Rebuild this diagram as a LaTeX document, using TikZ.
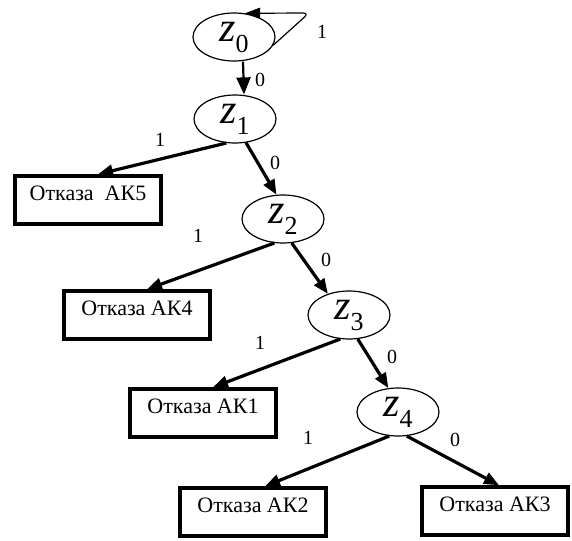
\documentclass[tikz,border=0pt]{standalone}
\usepackage{fontspec}
\setmainfont{Liberation Serif}
\usetikzlibrary{shapes.geometric,arrows.meta}

\newcommand{\zlab}[1]{{\fontsize{42}{42}\selectfont\itshape z}\raisebox{-11pt}{\fontsize{26}{26}\selectfont #1}}

\begin{document}
\begin{tikzpicture}[x=1pt,y=-1pt,
    state/.style={draw,ellipse,line width=1.2pt,minimum width=82pt,minimum height=48pt,inner sep=0pt},
    fail/.style={draw,rectangle,line width=3.5pt,minimum width=146pt,minimum height=48pt,
        text height=14pt,text depth=13pt,font=\fontsize{22}{22}\selectfont},
    edge/.style={line width=3.2pt,-{Triangle[length=15pt,width=12pt]}},
    bit/.style={font=\fontsize{20}{20}\selectfont,inner sep=0pt}]
        \useasboundingbox (0,0) rectangle (572,540);

        \node[state] (z0) at (234,37) {\zlab{0}};
        \node[state] (z1) at (235,119) {\zlab{1}};
        \node[state] (z2) at (283,219) {\zlab{2}};
        \node[state] (z3) at (349,315) {\zlab{3}};
        \node[state] (z4) at (398,412) {\zlab{4}};

        \node[fail] (ak5) at (88,200) {Отказа\ \ АК5};
        \node[fail] (ak4) at (137,315) {Отказа АК4};
        \node[fail] (ak1) at (203,413) {Отказа АК1};
        \node[fail] (ak2) at (253,512) {Отказа АК2};
        \node[fail] (ak3) at (495,511) {Отказа АК3};

        % self loop on z0
        \coordinate (loopc) at (309,13);
        \draw[line width=1.2pt,rounded corners=6pt,-{Triangle[length=15pt,width=11pt]}]
            (z0.-12) -- (loopc) -- (z0.65);
        \node[bit] (b0) at (322,32) {1};

        \draw[line width=2.2pt,-{Triangle[length=17pt,width=14pt]}] ([xshift=9pt]z0.south) -- ([xshift=9pt]z1.north);
        \node[bit] (b1) at (260,80) {0};

        \draw[edge] (z1.250) -- ([xshift=10pt]ak5.north);
        \draw[edge] (z1.295) -- (z2.105);
        \node[bit] (b2) at (160,140) {1};
        \node[bit] (b3) at (275,163) {0};

        \draw[edge] (z2.250) -- ([xshift=10pt]ak4.north);
        \draw[edge] (z2.290) -- (z3.135);
        \node[bit] (b4) at (198,236) {1};
        \node[bit] (b5) at (326,260) {0};

        \draw[edge] (z3.250) -- ([xshift=10pt]ak1.north);
        \draw[edge] (z3.290) -- (z4.112);
        \node[bit] (b6) at (260,343) {1};
        \node[bit] (b7) at (392,357) {0};

        \draw[edge] (z4.250) -- ([xshift=12pt]ak2.north);
        \draw[edge] (z4.290) -- ([xshift=4pt]ak3.north);
        \node[bit] (b8) at (308,438) {1};
        \node[bit] (b9) at (455,440) {0};
    \end{tikzpicture}
\end{document}
